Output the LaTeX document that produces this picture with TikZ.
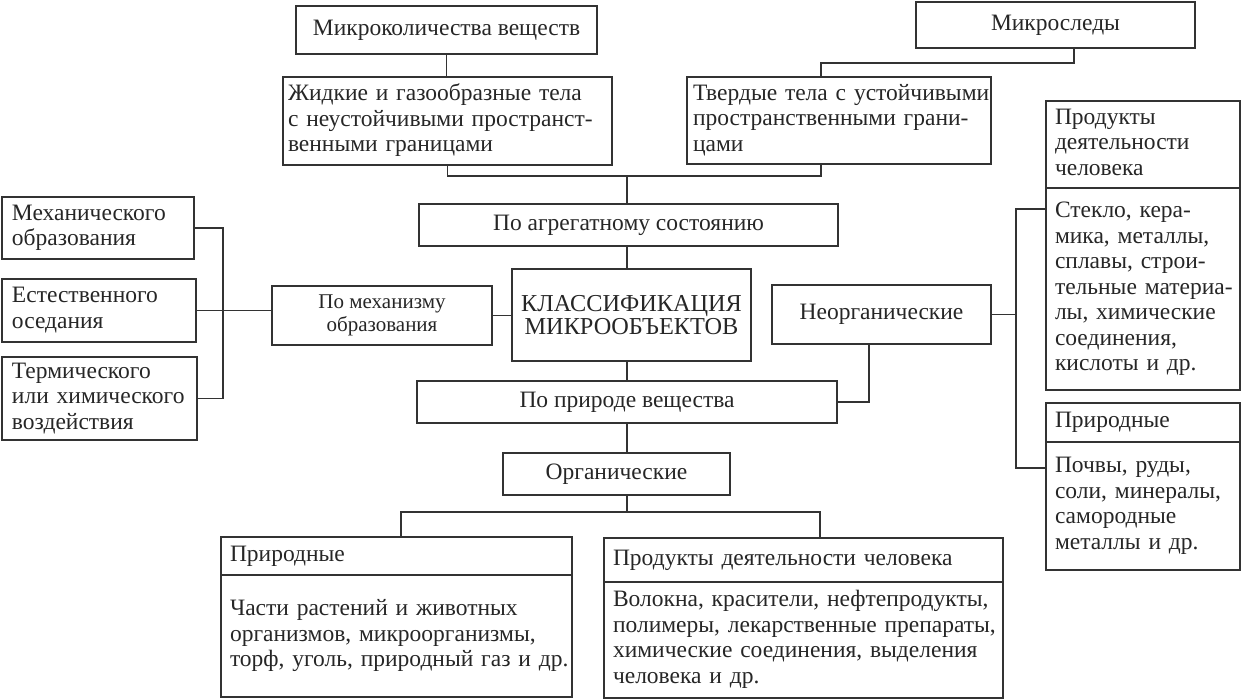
\documentclass[tikz,border=0pt]{standalone}
\usepackage{fontspec}
\setmainfont{Liberation Serif}
\newcommand{\grossSchrift}{\fontsize{23.5}{25.5}\selectfont}
\newcommand{\kleinSchrift}{\fontsize{21}{23}\selectfont}
\newcommand{\titelSchrift}{\fontsize{24.3}{23.5}\selectfont}
\newcommand{\zeilen}[1]{\begin{tabular}{@{}l@{}}#1\end{tabular}}

\begin{document}
\begin{tikzpicture}[x=1pt, y=-1pt,
			box/.style={draw=black!80, line width=1.2pt, inner sep=0pt, outer sep=0pt, anchor=north west, text=black!85, font=\grossSchrift},
			mbox/.style 2 args={box, align=center, minimum width=#1, minimum height=#2},
			tbox/.style 2 args={box, align=left, text width=#1, minimum height=#2, inner xsep=9pt},
			conn/.style={draw=black!80, line width=1.2pt}]
			\useasboundingbox (0,0) rectangle (1241,699);
			% obere Reihe
			\node[mbox={301}{48}] (mikroKol) at (296,6) {Микроколичества веществ};
			\node[mbox={279}{46}] (mikroSled) at (916,2) {Микроследы};
			\node[tbox={319}{88}, inner xsep=5pt] (zhidk) at (283,77) {\zeilen{Жидкие и газообразные тела\\с неустойчивыми пространст-\\венными границами}};
			\node[tbox={292}{87}, inner xsep=6pt] (tverd) at (687,77) {\zeilen{Твердые тела с устойчивыми\\пространственными грани-\\цами}};
			% Mitte
			\node[mbox={419}{42}] (agreg) at (419,204) {По агрегатному состоянию};
			\node[mbox={239}{92}, font=\titelSchrift] (klass) at (512,269) {КЛАССИФИКАЦИЯ\\МИКРООБЪЕКТОВ};
			\node[mbox={220}{59}, font=\kleinSchrift] (mechan) at (272,286) {По механизму\\образования};
			\node[mbox={219}{59}] (neorg) at (772,285) {Неорганические};
			\node[mbox={420}{42}] (prirV) at (417,381) {По природе вещества};
			\node[mbox={227}{42}] (organ) at (503,453) {Органические};
			% links
			\node[tbox={172}{62}, inner xsep=10pt] (mech1) at (2,197) {\zeilen{Механического\\образования}};
			\node[tbox={174}{63}, inner xsep=10pt] (mech2) at (2,279) {\zeilen{Естественного\\оседания}};
			\node[tbox={175}{83}, inner xsep=10pt] (mech3) at (2,357) {\zeilen{Термического\\или химического\\воздействия}};
			% rechts
			\node[tbox={176}{87}] (produR) at (1046,101) {\zeilen{Продукты\\деятельности\\человека}};
			\node[tbox={176}{202}] (produRbody) at (produR.south west) {\zeilen{Стекло, кера-\\мика, металлы,\\сплавы, строи-\\тельные материа-\\лы, химические\\соединения,\\кислоты и др.}};
			\node[tbox={176}{39}] (prirR) at (1046,403) {Природные};
			\node[tbox={176}{128}] (prirRbody) at (prirR.south west) {\zeilen{Почвы, руды,\\соли, минералы,\\самородные\\металлы и др.}};
			% unten
			\node[tbox={333}{38}] (prirL) at (221,537) {Природные};
			\node[tbox={333}{122}] (prirLbody) at (prirL.south west) {\zeilen{Части растений и животных\\организмов, микроорганизмы,\\торф, уголь, природный газ и др.}};
			\node[tbox={381}{44}] (produL) at (604,538) {\zeilen{Продукты деятельности человека}};
			\node[tbox={381}{116}] (produLbody) at (produL.south west) {\zeilen{Волокна, красители, нефтепродукты,\\полимеры, лекарственные препараты,\\химические соединения, выделения\\человека и др.}};
			% Knickpunkte
			\coordinate (trunk) at (627,0);
			\coordinate (hubA) at (627,176);
			\coordinate (sledX) at (1074,63);
			\coordinate (tverdX) at (821,0);
			\coordinate (brk) at (223,0);
			\coordinate (neorgX) at (869,0);
			\coordinate (rTop) at (1016,209);
			\coordinate (rBot) at (1016,468);
			\coordinate (orgL) at (401,512);
			\coordinate (orgR) at (820,512);
			% Verbindungen
			\draw[conn] (mikroKol.south) -- (mikroKol.south |- zhidk.north);
			\draw[conn] (mikroSled.south -| sledX) -- (sledX) -| (tverd.north -| tverdX);
			\draw[conn] (zhidk.south) |- (hubA -| tverdX) -- (tverd.south -| tverdX);
			\draw[conn] (hubA) -- (agreg.north -| hubA);
			\draw[conn] (agreg.south -| trunk) -- (klass.north -| trunk);
			\draw[conn] (klass.south -| trunk) -- (prirV.north -| trunk);
			\draw[conn] (prirV.south -| trunk) -- (organ.north -| trunk);
			\draw[conn] (organ.south -| trunk) -- (orgL -| trunk);
			\draw[conn] (prirL.north -| orgL) -- (orgL) -- (orgR) -- (produL.north -| orgR);
			\draw[conn] (mech1.east) -| (brk |- mech3.east) -- (mech3.east);
			\draw[conn] (mech2.east) -- (mech2.east -| mechan.west);
			\draw[conn] (mechan.east) -- (mechan.east -| klass.west);
			\draw[conn] (neorg.south -| neorgX) |- (prirV.east);
			\draw[conn] (neorg.east) -- (neorg.east -| rTop);
			\draw[conn] (produRbody.west |- rTop) -- (rTop) -- (rBot) -- (prirRbody.west |- rBot);
		\end{tikzpicture}
\end{document}
